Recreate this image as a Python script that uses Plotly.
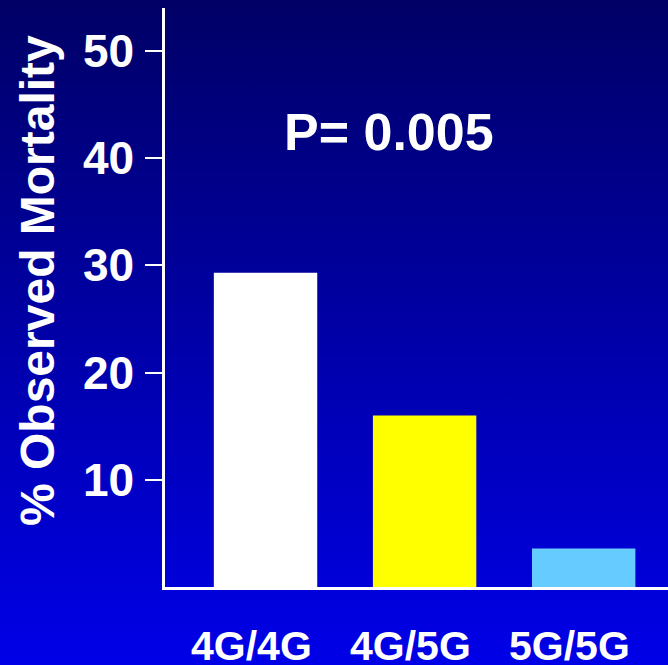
import base64
import plotly.graph_objects as go

categories = ["4G/4G", "4G/5G", "5G/5G"]
mortality = [29.3, 16.0, 3.6]
bar_colors = ["#FFFFFF", "#FFFF00", "#66CCFF"]
y_ticks = [10, 20, 30, 40, 50]
p_text = "P= 0.005"
y_title = "% Observed Mortality"

W, H = 668, 665
ML, MR, MT, MB = 165, 0, 8, 78
PW, PH = W - ML - MR, H - MT - MB

def px_to_paper_y(py):
    return (H - MB - py) / PH

def px_to_paper_x(px):
    return (px - ML) / PW

# background vertical gradient as an inline SVG image
svg = (
    '<svg xmlns="http://www.w3.org/2000/svg" width="%d" height="%d" preserveAspectRatio="none">'
    '<defs><linearGradient id="g" x1="0" y1="0" x2="0" y2="1">'
    '<stop offset="0" stop-color="#000066"/>'
    '<stop offset="1" stop-color="#0000E8"/>'
    '</linearGradient></defs>'
    '<rect width="100%%" height="100%%" fill="url(#g)"/></svg>' % (W, H)
)
bg_src = "data:image/svg+xml;base64," + base64.b64encode(svg.encode()).decode()

fig = go.Figure(go.Bar(x=categories, y=mortality, marker=dict(color=bar_colors, line=dict(width=0)),
                       width=0.65))

font_family = "Arial, 'Liberation Sans', sans-serif"

annotations = [
    dict(text=p_text, xref="paper", yref="paper",
         x=px_to_paper_x(389), y=px_to_paper_y(132),
         xanchor="center", yanchor="middle", showarrow=False,
         font=dict(size=52, weight="bold", color="white")),
    dict(text=y_title, xref="paper", yref="paper",
         x=px_to_paper_x(37), y=px_to_paper_y(281),
         xanchor="center", yanchor="middle", showarrow=False, textangle=-90,
         font=dict(size=48, weight="bold", color="white")),
]
# category labels under the axis (slightly left of bar centres, as in the original)
for cat in categories:
    annotations.append(dict(text=cat, xref="x", yref="paper", x=cat, xshift=-14,
                            y=px_to_paper_y(646), xanchor="center", yanchor="middle",
                            showarrow=False,
                            font=dict(size=41, weight="bold", color="white")))

fig.update_layout(
    width=W, height=H,
    margin=dict(l=ML, r=MR, t=MT, b=MB, pad=0),
    paper_bgcolor="#0000A0",
    plot_bgcolor="rgba(0,0,0,0)",
    images=[dict(source=bg_src, xref="paper", yref="paper",
                 x=px_to_paper_x(0), y=px_to_paper_y(0),
                 sizex=W / PW, sizey=H / PH, xanchor="left", yanchor="top",
                 sizing="stretch", layer="below")],
    showlegend=False,
    font=dict(family=font_family, color="white"),
    xaxis=dict(range=[-0.632, 2.53], showline=True, linecolor="white", linewidth=2.5,
               ticks="", showgrid=False, zeroline=False, automargin=False,
               showticklabels=False),
    yaxis=dict(range=[0, 54], showline=True, linecolor="white", linewidth=2.5,
               ticks="outside", ticklen=17, tickwidth=2, tickcolor="white",
               tickvals=y_ticks, showgrid=False, zeroline=False, automargin=False,
               tickfont=dict(size=46, weight="bold", color="white"),
               ticklabelstandoff=2),
    annotations=annotations,
)

fig.write_html("out.html", config={"displayModeBar": False},
               post_script="document.body.style.margin='0';document.body.style.overflow='hidden';")
